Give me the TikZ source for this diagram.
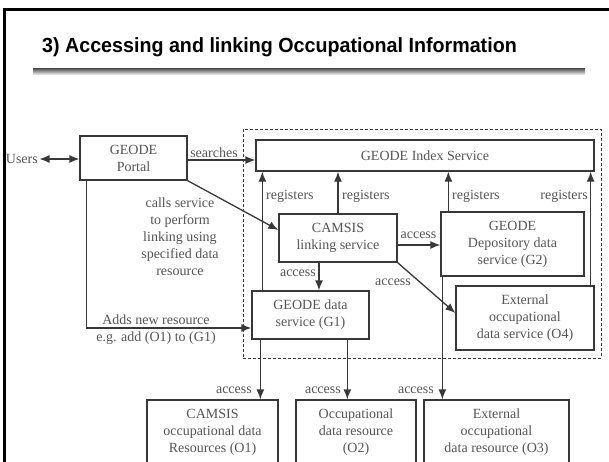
\documentclass[tikz,border=0pt]{standalone}
\usepackage{fontspec}
\setmainfont{Liberation Serif}
\newfontfamily\titlefont{Liberation Sans}
\usetikzlibrary{arrows.meta,calc}
\definecolor{ln}{HTML}{383838}
\definecolor{tx}{HTML}{555555}
\tikzset{
  box/.style={draw=ln, line width=1.3pt, text=tx, align=center, inner sep=0pt,
              font=\fontsize{14}{17}\selectfont},
  lbl/.style={text=tx, inner sep=0pt, align=center, font=\fontsize{14}{17}\selectfont},
  arr/.style={draw=ln, line width=1.3pt, -{Latex[length=10pt,width=8pt]}},
  dblarr/.style={draw=ln, line width=1.3pt, {Latex[length=10pt,width=8pt]}-{Latex[length=10pt,width=8pt]}},
  dbox/.style={draw=ln, line width=0.9pt, dash pattern=on 3pt off 2pt, inner sep=0pt}
}
\begin{document}
\begin{tikzpicture}[x=1pt,y=-1pt]
\useasboundingbox (0,0) rectangle (609,461);
\clip (0,0) rectangle (609,461);
\fill[white] (0,0) rectangle (609,461);
% slide frame
\draw[line width=2.7pt, black] (610,9.7) -- (4.6,9.7) -- (4.6,462);
% title
\node[anchor=base west, inner sep=0pt, xscale=0.96, font=\titlefont\bfseries\fontsize{20.5}{24}\selectfont] (title) at (42,52.7) {3) Accessing and linking Occupational Information};
\shade[top color=black!72, bottom color=black!12] (33,68) rectangle (585,74);

% dashed container
\node[dbox, minimum width=358pt, minimum height=229pt] (cont) at (422,243.5) {};

% boxes
\node[box, minimum width=107pt, minimum height=44pt] (portal) at (133.5,158) {GEODE\\Portal};
\node[box, minimum width=338pt, minimum height=31pt] (index) at (425,155.5) {GEODE Index Service};
\node[box, minimum width=118pt, minimum height=48pt] (camsis) at (338,238) {CAMSIS\\linking service};
\node[box, minimum width=143pt, minimum height=64pt] (g2) at (512.5,244) {GEODE\\Depository data\\service (G2)};
\node[box, minimum width=117pt, minimum height=48pt] (g1) at (310.5,315) {GEODE data\\service (G1)};
\node[box, minimum width=138pt, minimum height=64pt] (o4) at (525,318) {External\\occupational\\data service (O4)};
\node[box, minimum width=131pt, minimum height=64pt] (o1) at (212.5,432) {CAMSIS\\occupational data\\Resources (O1)};
\node[box, minimum width=120pt, minimum height=64pt] (o2) at (356,432) {Occupational\\data resource\\(O2)};
\node[box, minimum width=145pt, minimum height=64pt] (o3) at (496.5,432) {External\\occupational\\data resource (O3)};

% users
\node[lbl, anchor=east] (users) at (38,159) {Users};
\draw[dblarr] ([xshift=1.5pt]users.east) -- (users.east -| portal.west);

% searches
\coordinate (ps) at ($(portal.east)+(0,2)$);
\draw[arr] (ps) -- (ps -| index.west);
\node[lbl] (searches) at (214,153) {searches};

% portal -> camsis
\draw[arr] (portal.south east) -- ($(camsis.west)+(0,-8)$);
\node[lbl] (calls) at (180,236.5) {calls service\\to perform\\linking using\\specified data\\resource};

% portal -> g1
\coordinate (pd) at ($(portal.south west)+(7,0)$);
\draw[arr] (pd) |- ($(g1.west)+(0,13)$);
\node[lbl] (adds) at (156,320) {Adds new resource};
\node[lbl] (eg) at (156,338) {e.g. add (O1) to (G1)};

% registers
\coordinate (g1r) at ($(g1.north west)+(11,0)$);
\coordinate (g2r) at ($(g2.north west)+(8,0)$);
\coordinate (o4r) at ($(o4.north east)+(-4,0)$);
\draw[arr] (g1r) -- (g1r |- index.south);
\draw[arr] (camsis.north) -- (camsis.north |- index.south);
\draw[arr] (g2r) -- (g2r |- index.south);
\draw[arr] (o4r) -- (o4r |- index.south);
\node[lbl, anchor=west] (reg1) at (266,196) {registers};
\node[lbl, anchor=west] (reg2) at (342,196) {registers};
\node[lbl, anchor=west] (reg3) at (452,196) {registers};
\node[lbl, anchor=east] (reg4) at (588,196) {registers};

% camsis accesses
\coordinate (cg1) at ($(camsis.south)+(-19,0)$);
\draw[arr] (cg1) -- (cg1 |- g1.north);
\node[lbl, anchor=east] (acc1) at (316,273) {access};
\coordinate (cg2) at ($(camsis.east)+(0,7)$);
\draw[arr] (cg2) -- (cg2 -| g2.west);
\node[lbl] (acc2) at (418.5,235) {access};
\draw[arr] (camsis.south east) -- ($(o4.west)+(0,-5)$);
\node[lbl] (acc3) at (393,282) {access};

% down to resources
\coordinate (g1a) at ($(g1.south west)+(9,0)$);
\coordinate (g1b) at ($(g1.south west)+(96,0)$);
\coordinate (g2b) at ($(g2.south west)+(2,0)$);
\draw[arr] (g1a) -- (g1a |- o1.north);
\draw[arr] (g1b) -- (g1b |- o2.north);
\draw[arr] (g2b) -- (g2b |- o3.north);
\node[lbl, anchor=east] (acc4) at (252,390) {access};
\node[lbl, anchor=east] (acc5) at (341,390) {access};
\node[lbl, anchor=east] (acc6) at (434,390) {access};
\end{tikzpicture}
\end{document}
